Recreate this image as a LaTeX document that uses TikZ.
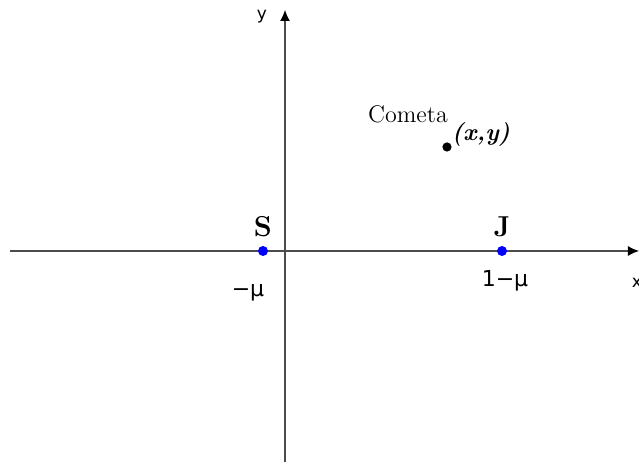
\documentclass[tikz,border=0pt]{standalone}
\usepackage{fontspec}
\newfontfamily\axisfont{DejaVu Sans}
\usetikzlibrary{arrows.meta,positioning}

\begin{document}
\begin{tikzpicture}[x=0.5pt,y=0.5pt,>=Latex,
  axis/.style={line width=0.6pt,draw=black!70,-{Latex[length=5.5pt,width=5pt,black]}},
  body/.style={circle,fill=blue,inner sep=0pt,minimum size=5pt},
  comet/.style={circle,fill=black,inner sep=0pt,minimum size=4.6pt},
  axlabel/.style={font=\axisfont\fontsize{8.5}{10}\selectfont},
  poslabel/.style={font=\axisfont\fontsize{11}{13}\selectfont,anchor=base}]
  \useasboundingbox (-285,-213) rectangle (354,251);
  % ejes
  \coordinate (xmin) at (-275,0);
  \coordinate (xmax) at (354,0);
  \coordinate (ymin) at (0,-211);
  \coordinate (ymax) at (0,241);
  \draw[axis] (xmin) -- (xmax);
  \draw[axis] (ymin) -- (ymax);
  \node[axlabel] (xlab) at (352,-32) {x};
  \node[axlabel] (ylab) at (-23,234) {y};
  % Sol y Jupiter
  \node[body] (S) at (-22,0) {};
  \node[body] (J) at (217,0) {};
  \node[font=\Large\bfseries,above=1pt of S] (Slab) {S};
  \node[font=\Large\bfseries,above=1pt of J] (Jlab) {J};
  \node[poslabel] (mulab) at (-37,-46) {−μ};
  \node[poslabel] (onemulab) at (220,-36) {1−μ};
  % cometa
  \node[comet] (C) at (162,104) {};
  \node[font=\large,anchor=base] (Clab) at (123,128) {Cometa};
  \node[font=\large\bfseries\itshape] (xylab) at (196,117) {(x,y)};
\end{tikzpicture}
\end{document}
